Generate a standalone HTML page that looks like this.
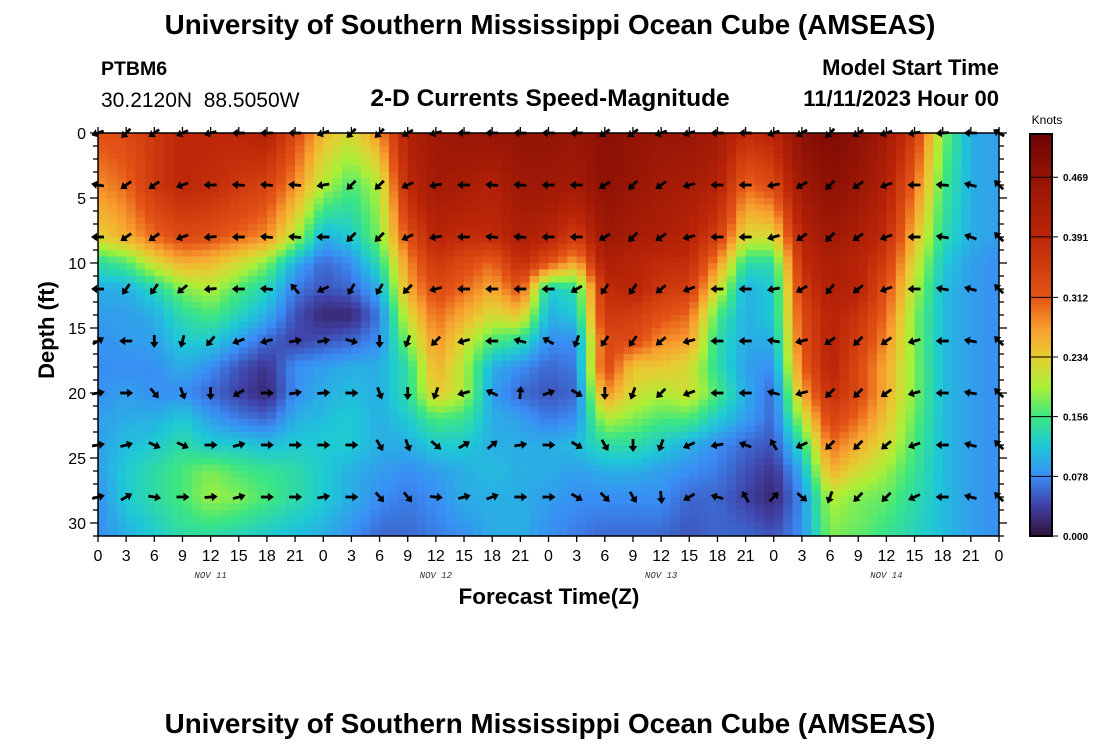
<!DOCTYPE html>
<html><head><meta charset="utf-8"><style>
body{margin:0;background:#fff;}
svg{display:block;font-family:"Liberation Sans",sans-serif;}
</style></head><body>
<svg id="chart" width="1100" height="750" viewBox="0 0 1100 750" xmlns="http://www.w3.org/2000/svg">
<rect width="1100" height="750" fill="#fff"/>
<text x="550" y="34" font-size="27.8" font-weight="bold" text-anchor="middle">University of Southern Mississippi Ocean Cube (AMSEAS)</text>
<text x="101" y="75" font-size="19.5" font-weight="bold">PTBM6</text>
<text x="101" y="107" font-size="21" style="white-space:pre" xml:space="preserve">30.2120N  88.5050W</text>
<text x="550" y="106" font-size="24.5" font-weight="bold" text-anchor="middle">2-D Currents Speed-Magnitude</text>
<text x="999" y="75" font-size="22" font-weight="bold" text-anchor="end">Model Start Time</text>
<text x="999" y="106" font-size="22" font-weight="bold" text-anchor="end">11/11/2023 Hour 00</text>
<g id="heat"></g>
<g id="arrows"></g>
<g id="axes"></g>
<text transform="translate(54,330) rotate(-90)" font-size="22" font-weight="bold" text-anchor="middle">Depth (ft)</text>
<text x="549" y="604" font-size="22.5" font-weight="bold" text-anchor="middle">Forecast Time(Z)</text>
<g id="cbar"></g>
<text x="1047" y="124" font-size="12" text-anchor="middle">Knots</text>
<text x="550" y="733" font-size="27.8" font-weight="bold" text-anchor="middle">University of Southern Mississippi Ocean Cube (AMSEAS)</text>
</svg>
<script>
// speed (knots*100) at times 0..96 step 3, for each depth level
const times=[0,3,6,9,12,15,18,21,24,27,30,33,36,39,42,45,48,51,54,57,60,63,66,69,72,75,78,81,84,87,90,93,96];
const depths=[0,4,8,10,12,14,16,18,20,22,24,26,28,31];
const speed0=[32,33,36,39,39,39,41,33,25,22,28,41,45,46,46,47,47,46,48,47,46,46,44,38,40,48,50,48,44,35,18,10,9];
const speed4=[28,30,36,39,38,36,34,28,20,16,20,39,44,43,41,45,45,44,48,46,44,43,41,30,33,45,48,46,41,30,16,10,9];
const speed8=[23,26,30,33,32,30,28,20,10,12,18,32,40,38,38,42,40,35,45,43,42,40,35,22,22,40,45,42,38,25,14,10,9];
const speed10=[14,16,22,26,25,22,18,10,6,8,14,28,36,33,30,38,32,26,42,40,38,38,28,14,14,38,42,40,35,22,12,9,8];
const speed12=[10,10,13,18,20,16,13,7,5,6,10,26,33,30,26,32,12,14,38,40,36,35,22,10,12,35,42,40,32,20,11,9,8];
const speed14=[9,9,10,14,16,13,10,5,2,2,7,22,30,26,22,24,10,12,36,35,32,30,16,10,12,33,40,37,30,18,11,9,8];
const speed16=[8,9,9,12,12,9,6,4,5,6,8,18,28,22,16,14,8,8,33,33,28,27,14,10,10,32,40,35,28,18,11,9,8];
const speed18=[8,8,8,10,8,5,3,8,9,10,10,14,26,20,10,8,6,7,34,24,24,22,14,9,8,30,40,33,26,18,11,9,8];
const speed20=[8,9,8,8,6,4,2,8,10,11,10,14,24,20,9,6,5,6,28,22,20,22,16,10,6,26,38,33,26,18,11,9,8];
const speed22=[9,10,10,12,9,7,6,10,11,12,10,12,16,15,10,9,7,8,20,18,16,16,12,9,6,20,34,30,24,17,11,9,8];
const speed24=[9,11,12,14,12,12,11,12,12,12,10,10,12,12,10,10,10,11,14,14,12,10,8,6,5,14,30,26,22,16,11,9,8];
const speed26=[9,12,14,16,18,16,15,14,12,10,9,8,9,10,11,10,10,9,10,10,9,8,7,5,3,10,26,22,19,15,11,9,8];
const speed28=[8,12,14,16,19,18,16,14,12,10,8,7,8,10,10,10,9,8,8,8,8,6,6,4,2,8,20,18,17,14,11,9,8];
const speed31=[8,10,12,14,14,13,12,11,10,8,6,6,7,8,10,10,8,7,6,6,6,5,6,6,5,8,18,17,15,13,11,9,8];
const speedRows=[speed0,speed4,speed8,speed10,speed12,speed14,speed16,speed18,speed20,speed22,speed24,speed26,speed28,speed31];
// arrow directions (degrees, 0=east, 90=north) at depths 0,4,...,28
const arrowDepths=[0,4,8,12,16,20,24,28];
const dir0=[200,225,215,205,195,180,180,180,200,225,225,210,195,180,180,180,180,180,215,215,200,195,180,180,200,210,225,210,200,190,185,180,150];
const dir4=[170,215,215,200,180,175,175,175,190,225,225,205,190,180,175,175,180,180,210,225,215,195,180,180,190,210,225,215,200,180,175,165,135];
const dir8=[180,215,215,200,185,180,175,175,180,225,225,205,190,180,175,175,180,180,210,225,215,195,180,180,195,215,225,215,200,180,170,160,135];
const dir12=[180,235,235,220,185,180,175,130,205,240,240,225,195,180,180,180,180,210,235,235,220,200,180,180,190,210,230,220,200,180,170,165,135];
const dir16=[30,180,270,255,230,200,195,10,10,345,270,250,225,195,180,165,150,250,235,235,220,195,180,180,170,195,215,225,215,195,180,170,135];
const dir20=[10,0,310,290,270,210,0,10,5,0,290,270,250,195,155,85,20,330,270,250,225,200,180,180,165,195,225,225,215,195,180,170,135];
const dir24=[10,15,335,335,0,15,0,0,0,0,300,290,320,30,40,10,0,330,300,270,250,205,190,160,120,205,225,225,220,200,180,165,135];
const dir28=[15,30,350,0,5,15,0,0,10,0,310,310,355,15,20,0,0,330,315,300,275,210,165,120,45,320,250,225,225,205,180,165,135];
const dirRows=[dir0,dir4,dir8,dir12,dir16,dir20,dir24,dir28];
const depthTicks=[0,5,10,15,20,25,30];
const hourLabels=["0","3","6","9","12","15","18","21","0","3","6","9","12","15","18","21","0","3","6","9","12","15","18","21","0","3","6","9","12","15","18","21","0"];
const dayLabels=["NOV 11","NOV 12","NOV 13","NOV 14"];
const cbarTicks=[0,0.078,0.156,0.234,0.312,0.391,0.469];

const NS="http://www.w3.org/2000/svg";
const X0=98,X1=999,Y0=133,Y1=536;
const xs=t=>X0+(X1-X0)*t/96;
const ys=d=>Y0+13*d;
const cy=v=>536-v*765;
const stops=[[0,[48,18,59]],[0.04,[64,64,165]],[0.078,[58,140,245]],[0.117,[30,200,215]],[0.156,[60,230,130]],[0.195,[170,240,55]],[0.234,[230,205,50]],[0.27,[248,160,48]],[0.312,[228,84,22]],[0.391,[188,38,8]],[0.469,[148,20,5]],[0.525,[110,4,3]]];
function col(v){
  if(v<=stops[0][0])return `rgb(${stops[0][1]})`;
  for(let i=1;i<stops.length;i++){
    if(v<=stops[i][0]){const a=stops[i-1],b=stops[i];const f=(v-a[0])/(b[0]-a[0]);
      return `rgb(${a[1].map((c,k)=>Math.round(c+(b[1][k]-c)*f)).join(',')})`;}
  }
  return `rgb(${stops[stops.length-1][1]})`;
}
function mk(tag,attrs,parent){const e=document.createElementNS(NS,tag);for(const k in attrs)e.setAttribute(k,attrs[k]);parent.appendChild(e);return e;}
function speedAt(t,d){
  let i=Math.min(Math.floor(t/3),times.length-2);const ft=(t-times[i])/3;
  let j=0;while(j<depths.length-2&&d>depths[j+1])j++;
  const fd=Math.max(0,Math.min(1,(d-depths[j])/(depths[j+1]-depths[j])));
  const a=speedRows[j][i]*(1-ft)+speedRows[j][i+1]*ft;
  const b=speedRows[j+1][i]*(1-ft)+speedRows[j+1][i+1]*ft;
  return (a*(1-fd)+b*fd)/100;
}
const heat=document.getElementById('heat');
for(let t=0;t<96;t++){
  for(let r=0;r<62;r++){
    const d=r*0.5;
    const v=speedAt(t+0.5,d+0.25);
    const x=xs(t),y=ys(d),h=Math.min(6.5,Y1-y);
    const rc=mk('rect',{x:x.toFixed(2),y:y.toFixed(2),width:(xs(t+1)-x+0.5).toFixed(2),height:(h+0.5).toFixed(2),fill:col(v)},heat);
    
    
  }
}
const ag=document.getElementById('arrows');
arrowDepths.forEach((d,ri)=>{
  times.forEach((t,ci)=>{
    const g=mk('g',{transform:`translate(${xs(t).toFixed(1)},${ys(d)}) rotate(${-dirRows[ri][ci]})`},ag);
    
    
    mk('line',{x1:-6,y1:0,x2:2,y2:0,stroke:'#000','stroke-width':2.8},g);
    mk('polygon',{points:'7,0 1,-4.3 1,4.3',fill:'#000'},g);
  });
});
const ax=document.getElementById('axes');
const frame=mk('rect',{x:X0,y:Y0,width:X1-X0,height:Y1-Y0,fill:'none',stroke:'#000','stroke-width':1.5},ax);


for(let d=0;d<=31;d++){
  const y=ys(d),L=d%5===0?8:5;
  mk('line',{x1:X0-L,y1:y,x2:X0,y2:y,stroke:'#000','stroke-width':1.3},ax);
  mk('line',{x1:X1,y1:y,x2:X1+L,y2:y,stroke:'#000','stroke-width':1.3},ax);
}
depthTicks.forEach(d=>{
  const tx=mk('text',{x:86,y:ys(d)+6,'font-size':16,'text-anchor':'end'},ax);tx.textContent=d;
  
  
});
hourLabels.forEach((lab,i)=>{
  const x=xs(i*3);
  mk('line',{x1:x,y1:Y0-6,x2:x,y2:Y0,stroke:'#000','stroke-width':1.3},ax);
  mk('line',{x1:x,y1:Y1,x2:x,y2:Y1+6,stroke:'#000','stroke-width':1.3},ax);
  const tx=mk('text',{x:x,y:561,'font-size':16,'text-anchor':'middle'},ax);tx.textContent=lab;
  
  
});
dayLabels.forEach((lab,i)=>{
  const tx=mk('text',{x:xs(i*24+12),y:578,'font-size':9,'font-style':'italic','font-family':'Liberation Mono, monospace','text-anchor':'middle',fill:'#333'},ax);tx.textContent=lab;
  
  
});
const cb=document.getElementById('cbar');
for(let y=134;y<536;y+=2){
  const r=mk('rect',{x:1030,y:y,width:22,height:2.5,fill:col((536-y-1)/765)},cb);
  
  
}
mk('rect',{x:1030,y:134,width:22,height:402,fill:'none',stroke:'#000','stroke-width':2},cb);
cbarTicks.forEach(v=>{
  const y=cy(v);
  mk('line',{x1:1030,y1:y,x2:1058,y2:y,stroke:'#000','stroke-width':1},cb);
  const tx=mk('text',{x:1063,y:y+4,'font-size':10,'font-weight':'bold'},cb);tx.textContent=v.toFixed(3);
  
  
});
</script>
</body></html>
